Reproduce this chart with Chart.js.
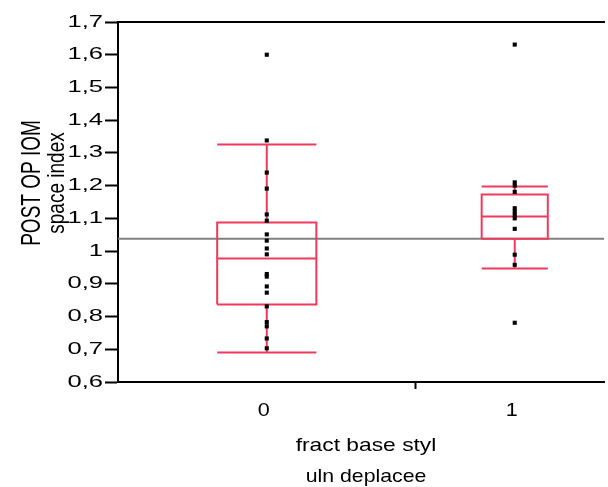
<!DOCTYPE html>
<html>
<head>
<meta charset="utf-8">
<script src="https://cdn.jsdelivr.net/npm/chart.js@4.4.1/dist/chart.umd.min.js"></script>
<style>
  html, body { margin: 0; padding: 0; background: #ffffff; overflow: hidden; }
  #wrap { width: 608px; height: 487px; }
</style>
</head>
<body>
<div id="wrap"><canvas id="chart" width="608" height="487"></canvas></div>
<script>
// Groups of "fract base styl / uln deplacee"
const groupLabels = ['0', '1'];

// POST OP IOM space index, individual observations
const group0Values = [1.600, 1.338, 1.240, 1.191, 1.112, 1.093, 1.051, 1.032, 1.008, 0.990,
                      0.930, 0.922, 0.892, 0.873, 0.831, 0.783, 0.770, 0.733, 0.703];
const group1Values = [1.631, 1.210, 1.200, 1.181, 1.131, 1.121, 1.111, 1.100, 1.068, 0.989,
                      0.958, 0.781];

// Box summaries: lower whisker, Q1, median, Q3, upper whisker
const group0Box = [0.690, 0.837, 0.977, 1.087, 1.326];
const group1Box = [0.947, 1.038, 1.106, 1.173, 1.197];

// Grand mean line
const grandMean = 1.038;

// Y axis range and step
const yMin = 0.6, yMax = 1.7, yStep = 0.1;

// Axis titles
const xTitleLines = ['fract base styl', 'uln deplacee'];
const yTitleLines = ['POST OP IOM', 'space index'];

// ---- layout ----
const groupSpans = [1.5, 1.0];      // horizontal share of each group
const xVisibleMax = 2.45;           // right edge of the drawing area
const boxFraction = 1 / 3;          // box width relative to its group span
const boxColor = '#EE3A5C';
const FONT = "'Liberation Sans', Arial, sans-serif";

const starts = [0, groupSpans[0]];
const centers = groupSpans.map((s, i) => starts[i] + s / 2);
const boundary = groupSpans[0];

const formatY = v => String(+(+v).toFixed(1)).replace('.', ',');

function boxSegments(i, box) {
  const c = centers[i];
  const half = groupSpans[i] * boxFraction / 2;
  const l = c - half, r = c + half;
  const [lo, q1, med, q3, hi] = box;
  const gap = { x: c, y: null };
  return [
    { x: l, y: q1 }, { x: r, y: q1 }, { x: r, y: q3 }, { x: l, y: q3 }, { x: l, y: q1 }, gap,
    { x: l, y: med }, { x: r, y: med }, gap,
    { x: c, y: q3 }, { x: c, y: hi }, gap,
    { x: l, y: hi }, { x: r, y: hi }, gap,
    { x: c, y: q1 }, { x: c, y: lo }, gap,
    { x: l, y: lo }, { x: r, y: lo }
  ];
}

const allGroups = [group0Values, group1Values];
const boxes = [group0Box, group1Box];

const datasets = [];
allGroups.forEach((vals, i) => {
  datasets.push({
    label: 'points ' + groupLabels[i],
    data: vals.map(v => ({ x: centers[i], y: v })),
    showLine: false,
    pointStyle: 'rect',
    pointRadius: 2.9,
    pointBackgroundColor: '#000000',
    pointBorderWidth: 0,
    order: 0
  });
});
boxes.forEach((box, i) => {
  datasets.push({
    label: 'box ' + groupLabels[i],
    data: boxSegments(i, box),
    showLine: true,
    spanGaps: false,
    borderColor: boxColor,
    borderWidth: 2,
    borderCapStyle: 'butt',
    borderJoinStyle: 'miter',
    pointRadius: 0,
    order: 1
  });
});
datasets.push({
  label: 'mean',
  data: [{ x: 0, y: grandMean }, { x: xVisibleMax, y: grandMean }],
  showLine: true,
  borderColor: '#808080',
  borderWidth: 2,
  pointRadius: 0,
  order: 2
});

// Text is drawn slightly widened, in the style of the original plot export
function wideText(ctx, text, x, y, sx, align) {
  ctx.save();
  ctx.translate(x, y);
  ctx.scale(sx, 1);
  ctx.textAlign = align;
  ctx.fillText(text, 0, 0);
  ctx.restore();
}

const axisText = {
  id: 'axisText',
  afterDraw(chart) {
    const ctx = chart.ctx;
    const xs = chart.scales.x, ys = chart.scales.y;
    ctx.save();
    ctx.fillStyle = '#000000';
    ctx.textBaseline = 'middle';

    // y tick labels
    ctx.font = '16.5px ' + FONT;
    ys.ticks.forEach(t => {
      wideText(ctx, formatY(t.value), ys.right - 15, ys.getPixelForValue(t.value), 1.55, 'right');
    });

    // x category labels
    ctx.font = '18px ' + FONT;
    groupLabels.forEach((lab, i) => {
      wideText(ctx, lab, xs.getPixelForValue(centers[i]) - 3, xs.top + 29, 1.2, 'center');
    });

    // x title
    ctx.font = '19px ' + FONT;
    wideText(ctx, xTitleLines[0], 366, 446, 1.2, 'center');
    wideText(ctx, xTitleLines[1], 366, 477, 1.12, 'center');

    // y title (rotated)
    const cy = 183;
    ctx.translate(0, cy);
    ctx.rotate(-Math.PI / 2);
    ctx.font = '19px ' + FONT;
    ctx.textAlign = 'center';
    [[yTitleLines[0], 32, 1.45], [yTitleLines[1], 57, 1.25]].forEach(([txt, x, s]) => {
      ctx.save();
      ctx.translate(0, x);
      ctx.scale(1, s);
      ctx.fillText(txt, 0, 0);
      ctx.restore();
    });
    ctx.restore();
  }
};

new Chart(document.getElementById('chart'), {
  type: 'scatter',
  data: { datasets },
  options: {
    responsive: false,
    animation: false,
    events: [],
    layout: { padding: 0 },
    plugins: { legend: { display: false }, tooltip: { enabled: false } },
    scales: {
      x: {
        type: 'linear',
        position: 'bottom',
        min: 0,
        max: xVisibleMax,
        afterBuildTicks(scale) {
          scale.ticks = [{ value: centers[0] }, { value: boundary }, { value: centers[1] }];
        },
        afterFit(scale) { scale.height = 105; },
        ticks: { display: false },
        grid: {
          drawOnChartArea: false,
          drawTicks: true,
          tickLength: 7,
          tickWidth: 2,
          tickColor(ctx) {
            return ctx.tick && Math.abs(ctx.tick.value - boundary) < 1e-9 ? '#000000' : 'rgba(0,0,0,0)';
          }
        },
        border: { display: true, color: '#000000', width: 2 }
      },
      xTop: {
        type: 'linear',
        position: 'top',
        min: 0,
        max: xVisibleMax,
        afterFit(scale) { scale.height = 22; },
        ticks: { display: false },
        grid: { drawOnChartArea: false, drawTicks: false },
        border: { display: true, color: '#000000', width: 2 }
      },
      y: {
        type: 'linear',
        min: yMin,
        max: yMax,
        afterBuildTicks(scale) {
          const t = [];
          for (let k = 0; k <= Math.round((yMax - yMin) / yStep); k++) {
            t.push({ value: +(yMin + k * yStep).toFixed(1) });
          }
          scale.ticks = t;
        },
        afterFit(scale) { scale.width = 118; },
        ticks: { display: false },
        grid: {
          drawOnChartArea: false,
          drawTicks: true,
          tickLength: 13,
          tickWidth: 2,
          tickColor: '#000000'
        },
        border: { display: true, color: '#000000', width: 2 }
      }
    }
  },
  plugins: [axisText]
});
</script>
</body>
</html>
